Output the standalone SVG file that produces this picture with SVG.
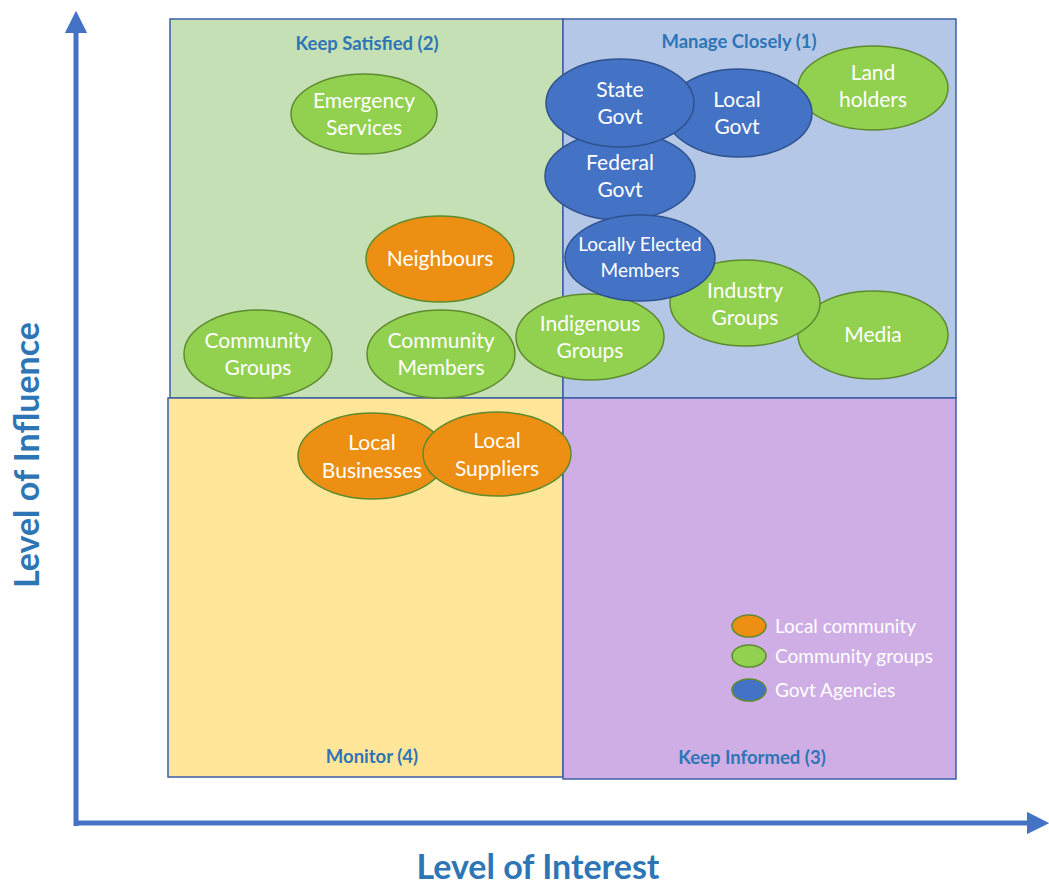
<svg xmlns="http://www.w3.org/2000/svg" width="1049" height="885" viewBox="0 0 1049 885">
  <style>
    .quad { stroke: #3B5FA8; stroke-width: 1.5; }
    .qtitle { font-family: Lato, "Liberation Sans", sans-serif; font-weight: bold; font-size: 18.5px; fill: #2E75B6; text-anchor: middle; }
    .axis-label { font-family: Lato, "Liberation Sans", sans-serif; font-weight: bold; font-size: 34px; fill: #2E75B6; text-anchor: middle; }
    .node text, .legend text { font-family: Lato, "Liberation Sans", sans-serif; font-size: 21px; fill: #FFFFFF; }
    .node text { text-anchor: middle; }
    .legend text { font-size: 19px; }
    .local { fill: #EC8F13; stroke: #5E8B2E; stroke-width: 1.5; }
    .group { fill: #92D050; stroke: #5E8B2E; stroke-width: 1.5; }
    .govt { fill: #4472C4; stroke: #2F528F; stroke-width: 1.5; }
    .axis { stroke: #4472C4; stroke-width: 5; fill: none; }
  </style>
  <defs>
    <marker id="axisHead" viewBox="0 0 10 10" refX="5" refY="5" markerWidth="4.5" markerHeight="4.5" orient="auto" markerUnits="strokeWidth">
      <path d="M0,0 L10,5 L0,10 z" fill="#4472C4"/>
    </marker>
  </defs>
  <rect width="1049" height="885" fill="#FFFFFF"/>

  <!-- quadrants -->
  <g id="quadrants">
    <rect class="quad" x="170" y="19" width="393" height="379" fill="#C5E0B4"/>
    <rect class="quad" x="563" y="19" width="393" height="379" fill="#B4C7E7"/>
    <rect class="quad" x="168" y="398" width="395" height="379" fill="#FFE699"/>
    <rect class="quad" x="563" y="398" width="393" height="381" fill="#CFAEE6"/>
    <text class="qtitle" x="367" y="50">Keep Satisfied (2)</text>
    <text class="qtitle" x="739" y="48">Manage Closely (1)</text>
    <text class="qtitle" x="372" y="763">Monitor (4)</text>
    <text class="qtitle" x="752" y="764">Keep Informed (3)</text>
  </g>

  <!-- axes -->
  <g id="connectors">
    <path class="axis" d="M76,826 L76,22" marker-end="url(#axisHead)"/>
    <path class="axis" d="M74,823 L1038,823" marker-end="url(#axisHead)"/>
  </g>
  <text class="axis-label" transform="translate(39,455) rotate(-90)">Level of Influence</text>
  <text class="axis-label" x="538" y="879">Level of Interest</text>

  <!-- stakeholders -->
  <g id="emergency-services" class="node">
    <ellipse class="group" cx="364" cy="114" rx="73" ry="40"/>
    <text x="364" y="108">Emergency</text>
    <text x="364" y="135">Services</text>
  </g>
  <g id="neighbours" class="node">
    <ellipse class="local" cx="440" cy="259" rx="74" ry="43"/>
    <text x="440" y="266">Neighbours</text>
  </g>
  <g id="community-groups" class="node">
    <ellipse class="group" cx="258" cy="354" rx="74" ry="44"/>
    <text x="258" y="348">Community</text>
    <text x="258" y="375">Groups</text>
  </g>
  <g id="community-members" class="node">
    <ellipse class="group" cx="441" cy="354" rx="74" ry="44"/>
    <text x="441" y="348">Community</text>
    <text x="441" y="375">Members</text>
  </g>
  <g id="land-holders" class="node">
    <ellipse class="group" cx="873" cy="88" rx="75" ry="42"/>
    <text x="873" y="80">Land</text>
    <text x="873" y="107">holders</text>
  </g>
  <g id="media" class="node">
    <ellipse class="group" cx="873" cy="335" rx="75" ry="44"/>
    <text x="873" y="342">Media</text>
  </g>
  <g id="industry-groups" class="node">
    <ellipse class="group" cx="745" cy="303" rx="75" ry="43"/>
    <text x="745" y="298">Industry</text>
    <text x="745" y="325">Groups</text>
  </g>
  <g id="indigenous-groups" class="node">
    <ellipse class="group" cx="590" cy="337" rx="74" ry="43"/>
    <text x="590" y="331">Indigenous</text>
    <text x="590" y="358">Groups</text>
  </g>
  <g id="local-govt" class="node">
    <ellipse class="govt" cx="739" cy="113" rx="73" ry="44"/>
    <text x="737" y="107">Local</text>
    <text x="737" y="134">Govt</text>
  </g>
  <g id="federal-govt" class="node">
    <ellipse class="govt" cx="620" cy="176" rx="75" ry="44"/>
    <text x="620" y="170">Federal</text>
    <text x="620" y="197">Govt</text>
  </g>
  <g id="state-govt" class="node">
    <ellipse class="govt" cx="620" cy="103" rx="74" ry="44"/>
    <text x="620" y="97">State</text>
    <text x="620" y="124">Govt</text>
  </g>
  <g id="locally-elected-members" class="node">
    <ellipse class="govt" cx="640" cy="258" rx="75" ry="43"/>
    <text x="640" y="251" style="font-size:19px">Locally Elected</text>
    <text x="640" y="277" style="font-size:19px">Members</text>
  </g>
  <g id="local-businesses" class="node">
    <ellipse class="local" cx="372" cy="456" rx="74" ry="43"/>
    <text x="372" y="450">Local</text>
    <text x="372" y="478">Businesses</text>
  </g>
  <g id="local-suppliers" class="node">
    <ellipse class="local" cx="497" cy="454" rx="74" ry="42"/>
    <text x="497" y="448">Local</text>
    <text x="497" y="476">Suppliers</text>
  </g>

  <!-- legend -->
  <g id="legend" class="legend">
    <ellipse class="local" cx="749" cy="626" rx="17" ry="11"/>
    <text x="775" y="633">Local community</text>
    <ellipse class="group" cx="749" cy="656" rx="17" ry="11"/>
    <text x="775" y="663">Community groups</text>
    <ellipse class="govt" cx="749" cy="690" rx="17" ry="11" style="stroke:#5E8B2E"/>
    <text x="775" y="697">Govt Agencies</text>
  </g>
</svg>
